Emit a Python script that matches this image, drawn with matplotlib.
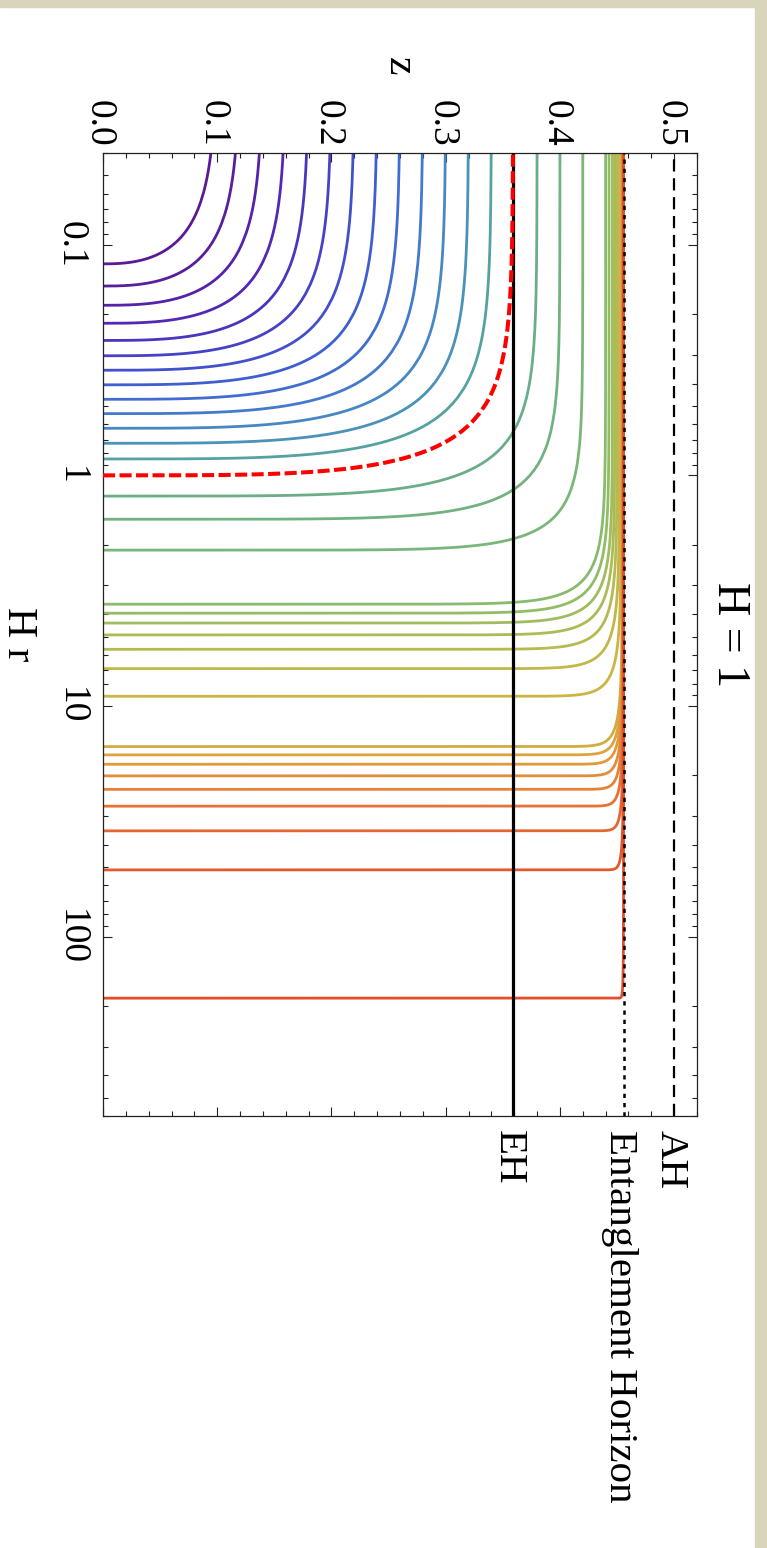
import numpy as np
import matplotlib
matplotlib.use('Agg')
import matplotlib.pyplot as plt
import matplotlib.transforms as mtransforms
from matplotlib.colors import LinearSegmentedColormap
from matplotlib.patches import Rectangle
from matplotlib.ticker import LogLocator, NullFormatter

plt.rcParams['font.family'] = ['Liberation Serif', 'DejaVu Serif']

W, H = 767, 1548

# H*r0 where each extremal surface reaches the boundary z = 0, and the depth z* it tends to
r0_vals = [0.121, 0.151, 0.183, 0.219, 0.26, 0.303, 0.35, 0.405, 0.468, 0.54, 0.625, 0.726, 0.849,
           1.0,
           1.23, 1.55, 2.11,
           3.62, 3.96, 4.37, 4.92, 5.68, 6.89, 9.08,
           15.0, 16.3, 17.9, 20.1, 23.0, 27.2, 34.8, 51.4, 185.0]
z_star = [0.10, 0.12, 0.14, 0.16, 0.18, 0.20, 0.22, 0.24, 0.26, 0.28, 0.30, 0.32, 0.34,
          0.359,
          0.38, 0.40, 0.42,
          0.440, 0.443, 0.446, 0.448, 0.450, 0.452, 0.4535,
          0.4545, 0.4548, 0.455, 0.4552, 0.4553, 0.4554, 0.4555, 0.4556, 0.4557]
critical_idx = 13   # the H r0 = 1 surface, drawn red dashed

z_AH = 0.5
z_EH = 0.359
z_ent = 0.4557
horizon_labels = ['EH', 'Entanglement Horizon', 'AH']

z_ticks = [0.0, 0.1, 0.2, 0.3, 0.4, 0.5]
z_ticklabels = ['0.0', '0.1', '0.2', '0.3', '0.4', '0.5']
r_ticks = [0.1, 1, 10, 100]
r_ticklabels = ['0.1', '1', '10', '100']

rainbow = LinearSegmentedColormap.from_list('rainbow_mma', [
    (0.00, '#5b1a94'), (0.09, '#5326b4'), (0.16, '#4542c8'), (0.23, '#3e64d2'),
    (0.30, '#4582c8'), (0.345, '#4a92b8'), (0.375, '#55a2a2'), (0.44, '#6aae88'),
    (0.50, '#7ab67a'), (0.53, '#86bb6e'), (0.62, '#a8bd58'), (0.72, '#cbb544'),
    (0.80, '#dfa03c'), (0.88, '#e6803a'), (1.00, '#e24d2a')])


def surface(r0, zs, rmin=0.04):
    # profile meets z=0 perpendicularly at r0 and flattens onto z* as r -> 0
    lr = np.log10(r0)
    q = 4 * r0 ** (0.22 if r0 < 1 else 1.0)
    p = 2 + 0.2 * lr if r0 < 1 else min(2 + 2.3 * lr, 3.0)
    eps = np.logspace(-15, -0.3, 400)
    rho = np.concatenate([[1.0], 1 - eps,
                          np.logspace(np.log10(rmin / r0), np.log10(0.5), 300)])
    rho = np.unique(rho[rho >= rmin / r0])[::-1]
    z = zs * (1 - rho ** p) ** (1 / q)
    return r0 * rho, z


fig = plt.figure(figsize=(W / 100, H / 100), dpi=100)
fig.add_artist(Rectangle((0, 1 - 7 / H), 1, 7 / H, transform=fig.transFigure,
                         color='#d8d5bc', zorder=-1))
fig.add_artist(Rectangle((755 / W, 0), 12 / W, 1, transform=fig.transFigure,
                         color='#d8d5bc', zorder=-1))

ax = fig.add_axes([103 / W, 1 - 1116 / H, 594 / W, 963 / H])
ax.set_yscale('log')
ax.set_xlim(0, 0.52)
ax.set_ylim(600, 0.04)

n = len(r0_vals)
for i, (r0, zs) in enumerate(zip(r0_vals, z_star)):
    if i == critical_idx:
        continue
    r, z = surface(r0, zs)
    ax.plot(z, r, color=rainbow(i / (n - 1)), lw=2.0, zorder=2)

ax.axvline(z_EH, color='k', lw=2.3, zorder=3)
ax.axvline(z_ent, color='k', lw=1.8, ls=(0, (1.7, 2.0)), zorder=4)
ax.axvline(z_AH, color='k', lw=1.6, ls=(0, (5.5, 3.0)), zorder=4)

r, z = surface(r0_vals[critical_idx], z_star[critical_idx])
ax.plot(z, r, color='red', lw=2.9, ls=(0, (3.0, 1.1)), zorder=5)

ax.set_xticks(z_ticks)
ax.set_xticks(np.arange(0, 0.5201, 0.02), minor=True)
ax.set_yticks(r_ticks)
ax.yaxis.set_minor_locator(LogLocator(base=10, subs=np.arange(2, 10)))
ax.yaxis.set_minor_formatter(NullFormatter())
ax.tick_params(which='both', direction='in', top=True, bottom=True, left=True, right=True,
               labelbottom=False, labeltop=False, labelleft=False, labelright=False,
               width=0.8, color='#222222')
ax.tick_params(which='major', length=6.5)
ax.tick_params(which='minor', length=3.5)
for sp in ax.spines.values():
    sp.set_linewidth(0.9)
    sp.set_color('#222222')


def vtext(x, y, s, trans, ha, size, dx=0, dy=0):
    tr = mtransforms.offset_copy(trans, x=dx, y=dy, units='dots')
    ax.text(x, y, s, transform=tr, rotation=270, rotation_mode='anchor',
            ha=ha, va='center_baseline', fontsize=size, clip_on=False)


for t, lab in zip(z_ticks, z_ticklabels):
    vtext(t, 1, lab, ax.get_xaxis_transform(), 'right', 27, dy=6)
for t, lab in zip(r_ticks, r_ticklabels):
    vtext(0, t, lab, ax.get_yaxis_transform(), 'center', 27, dx=-28)

vtext(0.5, 1, 'z', ax.transAxes, 'center', 30, dx=4, dy=87)
vtext(0, 0.5, 'H r', ax.transAxes, 'center', 30, dx=-80)
vtext(1, 0.5, 'H = 1', ax.transAxes, 'center', 33, dx=37)

for zl, lab in zip([z_EH, z_ent, z_AH], horizon_labels):
    vtext(zl, 0, lab, ax.get_xaxis_transform(), 'left', 29.5, dy=-14)

fig.savefig('out.png', dpi=100)
